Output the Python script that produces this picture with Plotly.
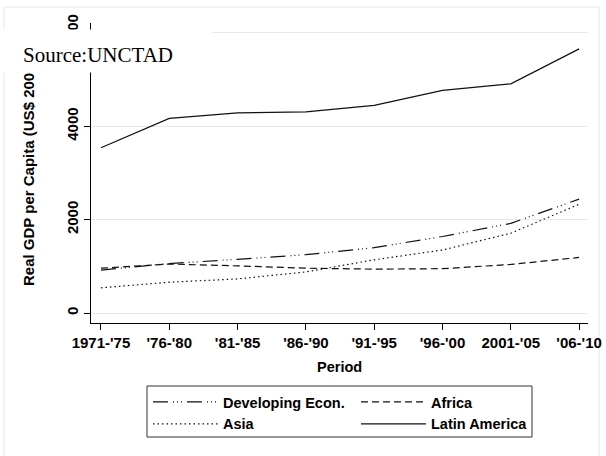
import plotly.graph_objects as go

periods = ["1971-'75", "'76-'80", "'81-'85", "'86-'90", "'91-'95", "'96-'00", "2001-'05", "'06-'10"]
developing = [920, 1060, 1150, 1250, 1400, 1640, 1920, 2440]
africa = [960, 1050, 1010, 960, 940, 950, 1040, 1190]
asia = [540, 660, 730, 880, 1140, 1350, 1710, 2330]
latin_america = [3540, 4170, 4290, 4310, 4450, 4770, 4910, 5660]
y_ticks = [0, 2000, 4000, 6000]

series = [
    ("Developing Econ.", developing, "15px,5px,1px,3px,1px,3px,1px,5px"),
    ("Africa", africa, "7px,4px"),
    ("Asia", asia, "1.5px,3px"),
    ("Latin America", latin_america, "solid"),
]

fig = go.Figure()
for name, vals, dash in series:
    fig.add_trace(go.Scatter(x=periods, y=vals, name=name, mode="lines",
                             line=dict(color="#111111", width=1.2, dash=dash)))

FONT = "Liberation Sans"
fig.update_layout(
    width=606, height=456,
    margin=dict(l=91, r=18, t=23, b=133, autoexpand=False),
    paper_bgcolor="white", plot_bgcolor="white",
    font=dict(family=FONT, size=15, color="black"),
    showlegend=True,
    legend=dict(orientation="h", x=0.1147, xanchor="left", y=-0.21, yanchor="top",
                borderwidth=0, bgcolor="rgba(0,0,0,0)",
                entrywidth=128, entrywidthmode="pixels", itemwidth=65,
                tracegroupgap=0,
                font=dict(family=FONT, size=14.5, color="black", weight="bold")),
    xaxis=dict(type="category", range=[-0.146, 7.13], showline=True, linecolor="black",
               linewidth=1, ticks="outside", ticklen=6, tickcolor="black", showgrid=False,
               tickfont=dict(family=FONT, size=15, color="black", weight="bold"),
               zeroline=False, automargin=False),
    yaxis=dict(range=[-214, 6214], tickvals=y_ticks, showline=True, linecolor="black",
               linewidth=1, ticks="outside", ticklen=6, tickcolor="black",
               showgrid=True, gridcolor="#e8e8e8", gridwidth=1, zeroline=False,
               tickangle=-90, automargin=False,
               tickfont=dict(family=FONT, size=15, color="black", weight="bold")),
    shapes=[
        dict(type="rect", xref="paper", yref="paper", x0=-0.175, x1=1.022,
             y0=-0.6, y1=1.0533, line=dict(color="#e6e6e6", width=1), layer="below"),
        dict(type="rect", xref="paper", yref="paper", x0=0.1127, x1=0.8873,
             y0=-0.38, y1=-0.21, line=dict(color="#333333", width=1),
             fillcolor="white", layer="below"),
    ],
    annotations=[
        dict(text="Real GDP per Capita (US$ 2000)", xref="paper", yref="paper",
             x=-0.1268, y=0.5, xanchor="center", yanchor="middle", textangle=-90,
             showarrow=False, font=dict(family=FONT, size=15, color="black", weight="bold")),
        dict(text="Period", xref="paper", yref="paper", x=0.5, y=-0.147,
             xanchor="center", yanchor="middle", showarrow=False,
             font=dict(family=FONT, size=14.5, color="black", weight="bold")),
        dict(text=" ", xref="paper", yref="paper", x=-0.185, y=0.9067, xanchor="left",
             yanchor="middle", width=211, height=42, bgcolor="white", borderpad=0,
             showarrow=False),
        dict(text="Source:UNCTAD", xref="paper", yref="paper", x=-0.1388, y=0.8933,
             xanchor="left", yanchor="middle", showarrow=False, borderpad=0,
             font=dict(family="Liberation Serif", size=21, color="black")),
    ],
)

fig.write_html("out.html", config={"displayModeBar": False},
               post_script="document.body.style.margin='0';")
